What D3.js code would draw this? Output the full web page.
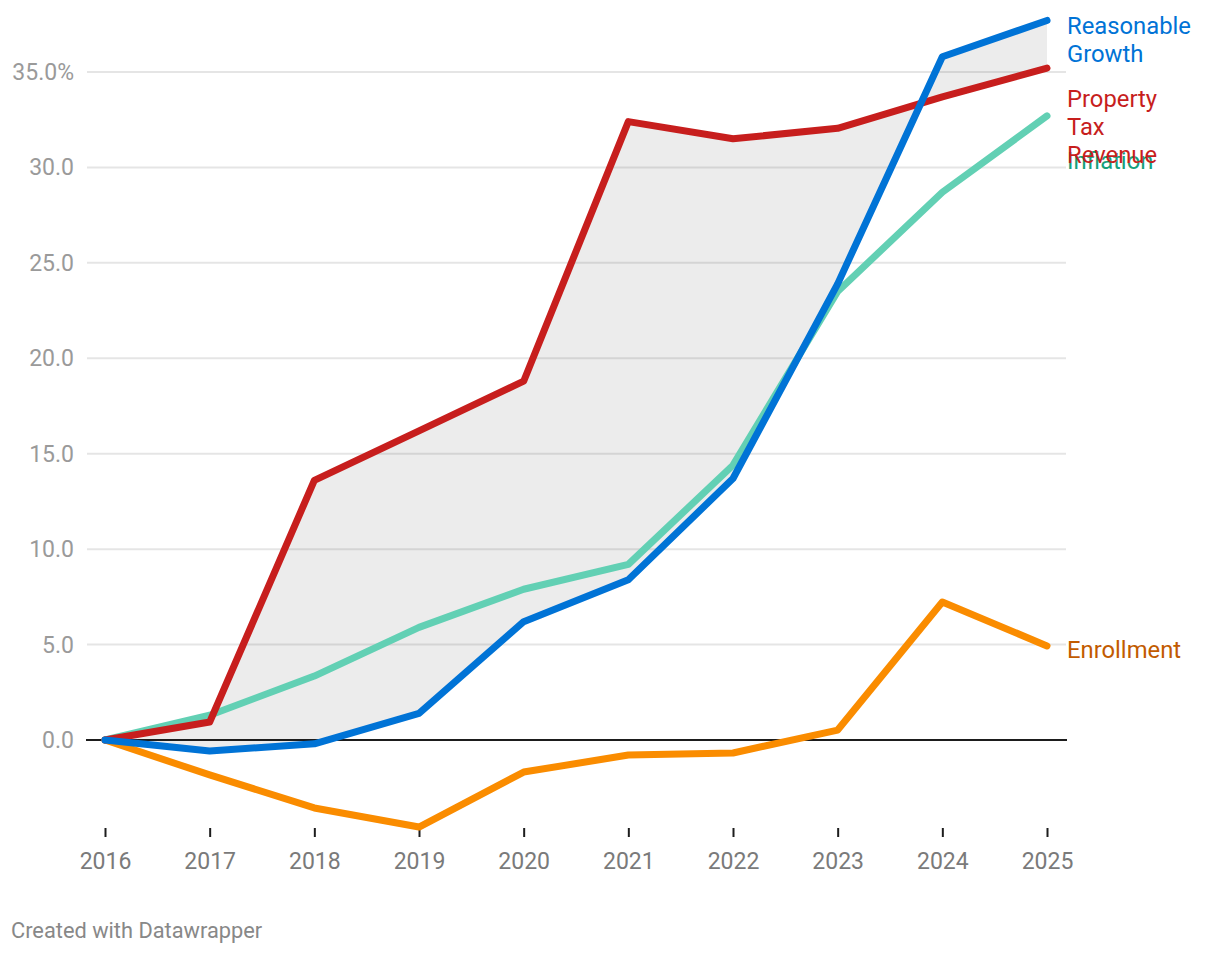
<!DOCTYPE html>
<html>
<head>
<meta charset="utf-8">
<script src="https://cdn.jsdelivr.net/npm/d3@7"></script>
<style>
  html, body { margin: 0; padding: 0; background: #fff; }
  svg { display: block; font-family: Roboto, "Noto Sans", sans-serif; }
</style>
</head>
<body>
<svg id="chart" width="1220" height="954"></svg>
<script>
const years = [2016, 2017, 2018, 2019, 2020, 2021, 2022, 2023, 2024, 2025];
const reasonableGrowth = [0, -0.58, -0.2, 1.4, 6.2, 8.4, 13.7, 23.9, 35.8, 37.7];
const propertyTaxRevenue = [0, 0.94, 13.6, 16.2, 18.8, 32.4, 31.5, 32.05, 33.7, 35.2];
const inflation = [0, 1.3, 3.35, 5.9, 7.9, 9.2, 14.4, 23.5, 28.7, 32.7];
const enrollment = [0, -1.83, -3.56, -4.56, -1.68, -0.79, -0.68, 0.52, 7.23, 4.93];
const yTicks = [0, 5, 10, 15, 20, 25, 30, 35];
const yTickLabels = ["0.0", "5.0", "10.0", "15.0", "20.0", "25.0", "30.0", "35.0%"];
const seriesNames = ["Inflation", "Enrollment", "Property Tax Revenue", "Reasonable Growth"];
const footerText = "Created with Datawrapper";

const seriesValues = [inflation, enrollment, propertyTaxRevenue, reasonableGrowth];
const lineColors = ["#62d0b4", "#fa8c00", "#c71e1d", "#0073d6"];
const labelColors = ["#14a07c", "#c25b00", "#c71e1d", "#0073d6"];
const labelLines = [["Inflation"], ["Enrollment"], ["Property", "Tax", "Revenue"], ["Reasonable", "Growth"]];
// vertical offset (px) of first label line from line end, chosen to avoid collisions
const labelOffsets = [45, 4, 30, 5];

const svg = d3.select("#chart");
const x = d3.scaleLinear().domain([2016, 2025]).range([105, 1047]);
const y = d3.scaleLinear().domain([0, 35]).range([740, 72]);
const gridLeft = 87, gridRight = 1066;

// area between Property Tax Revenue and Reasonable Growth
const area = d3.area()
  .x((d, i) => x(years[i]))
  .y0((d, i) => y(reasonableGrowth[i]))
  .y1((d, i) => y(propertyTaxRevenue[i]));
svg.append("path").datum(years).attr("d", area).attr("fill", "#ececec");

// gridlines
svg.append("g").selectAll("line").data(yTicks.filter(t => t !== 0)).join("line")
  .attr("x1", gridLeft).attr("x2", gridRight)
  .attr("y1", d => y(d)).attr("y2", d => y(d))
  .attr("stroke", "rgba(0,0,0,0.1)").attr("stroke-width", 2);

// y labels
svg.append("g").selectAll("text").data(yTicks).join("text")
  .attr("x", 74).attr("y", d => y(d)).attr("dy", "0.35em")
  .attr("text-anchor", "end").attr("fill", "#9a9a9a")
  .style("font-size", "23px")
  .text((d, i) => yTickLabels[i]);

// zero baseline
svg.append("line").attr("x1", gridLeft - 1).attr("x2", gridRight + 1)
  .attr("y1", y(0)).attr("y2", y(0)).attr("stroke", "#1d1d1d").attr("stroke-width", 2);

// x axis
const xAxis = d3.axisBottom(x).tickValues(years).tickFormat(d3.format("d")).tickSize(9).tickPadding(16);
const gx = svg.append("g").attr("transform", "translate(0,828)").call(xAxis);
gx.select(".domain").remove();
gx.selectAll(".tick line").attr("stroke", "#1d1d1d").attr("stroke-width", 2);
gx.selectAll(".tick text").attr("fill", "#7a7a7a").style("font-size", "23px").style("font-family", "Roboto");

// lines
const line = d3.line().x((d, i) => x(years[i])).y(d => y(d));
svg.append("g").selectAll("path").data(seriesValues).join("path")
  .attr("d", d => line(d))
  .attr("fill", "none")
  .attr("stroke", (d, i) => lineColors[i])
  .attr("stroke-width", 7)
  .attr("stroke-linecap", "round")
  .attr("stroke-linejoin", "round");

// labels
const lab = svg.append("g").selectAll("text").data(seriesValues).join("text")
  .attr("x", 1067)
  .attr("y", (d, i) => y(d[d.length - 1]) + labelOffsets[i])
  .attr("fill", (d, i) => labelColors[i])
  .style("font-size", "23.8px");
lab.each(function(d, i) {
  const t = d3.select(this);
  labelLines[i].forEach((s, j) => {
    t.append("tspan").attr("x", 1067).attr("dy", j === 0 ? "0.35em" : "28px").text(s);
  });
});

// footer
svg.append("text").attr("x", 11).attr("y", 938).attr("fill", "#888")
  .style("font-size", "21.8px").text(footerText);
</script>
</body>
</html>
